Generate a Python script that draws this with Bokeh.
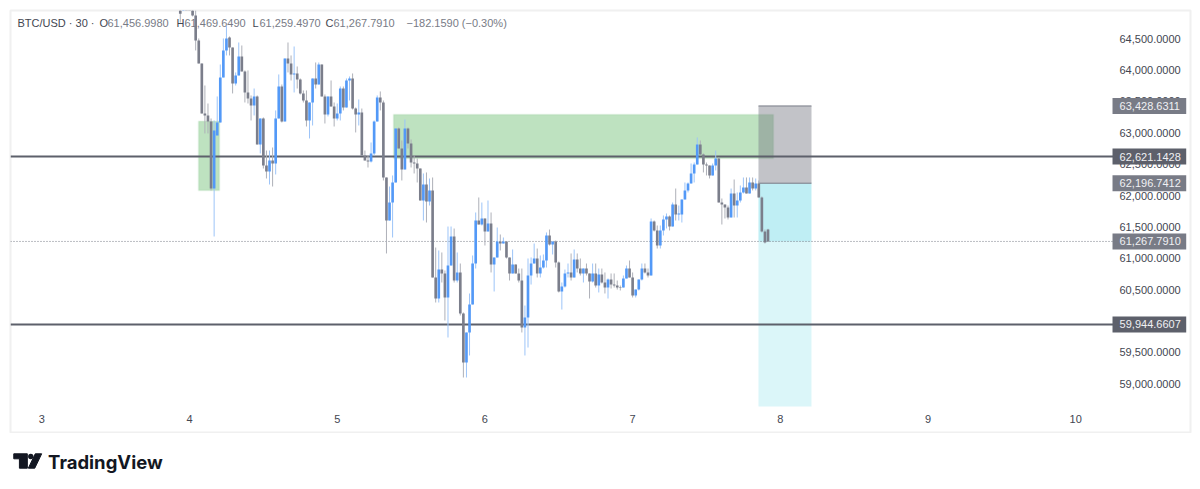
from bokeh.plotting import figure
from bokeh.layouts import column
from bokeh.models import Label, FixedTicker, NumeralTickFormatter, Range1d
from bokeh.core.properties import value
from bokeh.embed import file_html
from bokeh.resources import INLINE

first_bar = -3
bars_per_day = 48
opens = [64952,64970,65110,65060,
64983,64872,64473,64106,63309,63277,63181,62112,62958,63165,63883,64314,64521,64361,63787,63915,64218,63979,63644,63548,63436,63580,62814,63229,62479,62384,62559,62511,63229,63739,63181,64186,64106,63931,63947,63851,63628,63516,63197,63484,63867,63771,64090,63580,63293,63580,63420,63229,63309,63707,63404,63835,63867,63388,63293,63325,62639,62559,62543,62671,63181,63564,63484,62288,61602,61889,62208,63069,62750,62415,63069,62830,62527,62511,62431,61921,62176,61905,62081,60693,60358,60820,60757,60374,60884,61347,60645,60773,60119,59337,59816,60262,60916,61602,61538,61634,61427,61554,60900,61012,61267,61235,61267,61012,60757,60900,60757,60645,59895,60055,60725,60916,60996,60757,60852,60964,61363,61219,61267,60932,60470,60549,60757,60773,60693,60980,60836,60757,60836,60757,60629,60757,60565,60741,60613,60533,60661,60581,60565,60533,60533,60677,60836,60693,60406,60501,60661,60836,60773,60725,61586,61443,61203,61443,61618,61666,61506,61857,61698,61698,61937,62081,62192,62352,62495,62814,62655,62495,62479,62320,62479,62591,61889,61857,61809,61650,62033,61841,61921,62049,62128,62033,62208,62112,62192,61969,61427,61456.998]
highs = [65000,65120,65140,65100,
65111,64952,64505,64106,63755,63468,63229,63197,63580,64090,64505,64712,64537,64361,63963,64441,64393,63995,63995,63596,63707,63596,63229,63245,62718,62718,62766,63357,63931,63771,64186,64441,64234,64377,64058,63867,63676,63676,63484,63867,64122,64122,64090,63612,63580,63835,63484,63468,63739,63739,63867,63899,63947,63404,63532,63388,62718,62639,62846,63197,63596,63660,63516,62288,62144,62320,63069,63085,62878,63213,63085,62894,62639,62591,62431,62352,62368,62272,62288,61171,61124,61092,60805,61506,61506,61474,61092,60916,60135,59816,60438,61044,61730,61969,61889,61634,61921,61730,61012,61490,61379,61331,61267,61012,61140,60900,60836,60836,60246,60996,61012,61235,61155,61044,61060,61411,61458,61267,61283,60948,60613,60820,60916,61076,61140,61076,60996,60836,60916,60757,60916,60916,60836,60836,60773,60677,60757,60757,60645,60565,60725,60884,60964,60773,60501,60661,60916,60916,60836,61634,61602,61522,61522,61682,61714,61682,61889,62112,61841,61937,62208,62208,62511,62527,62926,62878,62671,62527,62479,62511,62718,62607,61953,61857,61841,62112,62256,62049,62160,62288,62288,62288,62288,62272,62240,61985,61458,61469.649]
lows = [64760,64950,65040,64960,
64856,64314,64106,63309,62990,62990,62081,61347,62958,63165,63883,64234,64234,63628,63755,63915,63979,63484,63468,63197,63277,62814,62671,62431,62272,62176,62144,62336,63229,63165,63181,63963,63835,63644,63707,63612,63484,63101,62910,63117,63707,63771,63580,63149,63261,63420,63101,63197,63197,63357,63404,63516,63372,63006,63117,62639,62559,62447,62527,62639,63181,63357,62240,61076,61602,61331,62208,62750,62240,62415,62750,62447,62352,62208,61921,61602,61570,61841,60693,60294,60294,60613,60007,59736,60884,60613,60613,60087,59098,59098,59449,60262,60836,61538,61522,61203,61427,60773,60470,61012,61124,61235,60996,60645,60757,60757,60613,59816,59449,59576,60581,60916,60693,60693,60836,60852,61203,61060,60852,60454,60182,60533,60693,60645,60693,60773,60725,60613,60725,60358,60613,60533,60454,60597,60438,60358,60517,60533,60501,60486,60533,60677,60693,60374,60374,60486,60645,60757,60693,60725,61427,61155,61155,61363,61475,61443,61506,61602,61602,61570,61937,62049,62192,62208,62495,62639,62368,62320,62272,62320,62400,61889,61538,61634,61618,61650,61650,61650,61889,62033,62033,62033,62081,62081,61969,61411,61235,61259.497]
closes = [64900,65100,65060,64983,
64872,64473,64106,63309,63277,63181,62112,63037,63165,63883,64314,64505,64361,63787,63915,64218,63979,63644,63548,63436,63580,62814,63229,62479,62384,62559,62511,63229,63739,63181,64186,64106,63931,63947,63851,63628,63516,63197,63484,63867,63771,64090,63580,63293,63580,63420,63229,63309,63707,63404,63835,63867,63388,63293,63325,62639,62559,62543,62671,63181,63564,63484,62288,61602,61889,62208,63069,62750,62415,63069,62830,62527,62511,62431,61921,62176,61905,62081,60693,60358,60820,60757,60374,60884,61347,60645,60773,60119,59337,59816,60262,60916,61602,61538,61634,61427,61554,60900,61012,61267,61235,61267,61012,60757,60900,60757,60645,59895,60055,60725,60916,60996,60757,60852,60964,61363,61219,61267,60932,60470,60549,60757,60773,60693,60980,60836,60757,60836,60757,60629,60757,60565,60741,60613,60533,60661,60581,60565,60533,60525,60677,60836,60693,60406,60501,60661,60836,60773,60725,61586,61443,61203,61443,61618,61666,61506,61857,61698,61714,61937,62081,62192,62352,62495,62814,62655,62495,62479,62320,62479,62591,61889,61857,61809,61650,62033,61841,61921,62049,62128,62033,62208,62112,62192,61969,61427,61251,61267.791]

price_ticks = [59000,59500,60000,60500,61000,61500,62000,62500,63000,63500,64000,64500]
day_ticks = [3,4,5,6,7,8,9,10]
level_prices = [62621.1428, 59944.6607]
last_price = 61267.7910
entry_price = 62196.7412
stop_price = 63428.6311
pane_low = 58636
pane_days = (2.788, 10.263)
tag_days = (10.249, 10.748)
tag_text_day = 10.297
tag_half = 128
zone_a = (4.061, 4.203, 62081, 63186)
zone_b = (5.381, 7.954, 62591, 63291)
position_days = (7.852, 8.211)

UP, DOWN = "#5399f7", "#7b7e8b"
UP_W, DOWN_W = "#9cc4f8", "#aeb0b8"

p = figure(frame_width=1180, frame_height=422, width=1192, height=433,
           x_range=Range1d(2.788, 10.777), y_range=Range1d(58221, 64951),
           x_axis_location="below", y_axis_location="right",
           output_backend="svg", toolbar_location=None,
           min_border_left=10, min_border_top=10, min_border_right=2, min_border_bottom=1,
           background_fill_color="white", border_fill_color="white")
p.outline_line_color = "#f0f0f0"
p.outline_line_width = 2
p.grid.visible = False

for ax in (p.xaxis[0], p.yaxis[0]):
    ax.axis_line_color = None
    ax.major_tick_line_color = None
    ax.minor_tick_line_color = None
    ax.major_tick_out = 0
    ax.major_label_text_font = "Liberation Sans"
    ax.major_label_text_font_size = "11px"
    ax.major_label_text_color = "#434651"
p.xaxis[0].ticker = FixedTicker(ticks=day_ticks)
p.xaxis[0].major_label_standoff = -18
p.yaxis[0].ticker = FixedTicker(ticks=price_ticks)
p.yaxis[0].formatter = NumeralTickFormatter(format="0,0.0000")
p.yaxis[0].major_label_standoff = -71

# zones
for z in (zone_a, zone_b):
    p.quad(left=z[0], right=z[1], bottom=z[2], top=z[3], fill_color="#4caf50", fill_alpha=0.36,
           line_color="#4caf50", line_alpha=0.06, line_width=2)
p.quad(left=position_days[0], right=position_days[1], bottom=entry_price, top=stop_price,
       fill_color="#787b86", fill_alpha=0.45, line_color=None)
p.quad(left=position_days[0], right=position_days[1], bottom=last_price, top=entry_price,
       fill_color="#00bcd4", fill_alpha=0.25, line_color=None)
p.quad(left=position_days[0], right=position_days[1], bottom=pane_low, top=last_price,
       fill_color="#00bcd4", fill_alpha=0.14, line_color=None)
p.segment(x0=position_days[0], x1=position_days[1], y0=stop_price, y1=stop_price, line_color="#787b86", line_width=1)
p.segment(x0=position_days[0], x1=position_days[1], y0=entry_price, y1=entry_price, line_color="#787b86", line_width=1)

# levels
for lv in level_prices:
    p.segment(x0=pane_days[0], x1=pane_days[1], y0=lv, y1=lv, line_color="#5d606b", line_width=2)
p.segment(x0=pane_days[0], x1=pane_days[1], y0=last_price, y1=last_price,
          line_color="#787b86", line_width=1, line_dash="1 2")

# candles
days = [4 + (first_bar + i) / bars_per_day for i in range(len(closes))]
up = [c >= o for o, c in zip(opens, closes)]
wick_colors = [UP_W if u else DOWN_W for u in up]
body_colors = [UP if u else DOWN for u in up]
p.segment(x0=days, x1=days, y0=lows, y1=highs, line_color=wick_colors, line_width=1)
p.vbar(x=days, width=0.018, bottom=[min(o, c) for o, c in zip(opens, closes)],
       top=[max(o, c) for o, c in zip(opens, closes)], fill_color=body_colors, line_color=None)

# header
header_y = 64751
header = [(7, "BTC/USD · 30 ·", "#434651"), (89, "O", "#434651"), (97, "61,456.9980", "#787b86"),
          (166, "H", "#434651"), (174, "61,469.6490", "#787b86"), (242, "L", "#434651"),
          (249, "61,259.4970", "#787b86"), (315, "C", "#434651"), (323, "61,267.7910", "#787b86"),
          (396, "−182.1590 (−0.30%)", "#787b86")]
for x, t, c in header:
    p.add_layout(Label(x=x, y=header_y, x_units="screen", y_units="data", text=t, text_color=c,
                       text_font="Liberation Sans", text_font_size="11px", text_baseline="middle",
                       level="underlay"))

# price scale tags
for price, txt, bg in [(stop_price, "63,428.6311", "#787b86"), (level_prices[0], "62,621.1428", "#5d606b"),
                       (entry_price, "62,196.7412", "#787b86"), (last_price, "61,267.7910", "#787b86"),
                       (level_prices[1], "59,944.6607", "#5d606b")]:
    p.quad(left=tag_days[0], right=tag_days[1], bottom=price - tag_half, top=price + tag_half,
           fill_color=bg, line_color=None, level="annotation")
    p.text([tag_text_day], [price], text=[txt], text_color="#f0f0f3", text_font=value("Liberation Sans"),
           text_font_size="11px", text_baseline="middle", level="annotation")

# logo strip
logo = figure(width=1192, height=48, x_range=Range1d(8, 1200), y_range=Range1d(48, 0),
              output_backend="svg", toolbar_location=None, min_border=0, outline_line_color=None,
              background_fill_color="white", border_fill_color="white")
logo.axis.visible = False
logo.grid.visible = False
logo.patch([11.3, 25, 25, 17, 17, 11.3], [20.3, 20.3, 34.7, 34.7, 25.3, 25.3], color="#131722")
logo.patch([33, 39.5, 32.5, 26], [20.3, 20.3, 34.7, 34.7], color="#131722")
logo.scatter([28.5], [23], size=5.4, color="#131722", line_color=None)
logo.text([46], [28], text=["TradingView"], text_font=value("Inter"), text_font_size="18.5px",
          text_font_style="bold", text_color="#131722", text_baseline="middle")

page = column(p, logo, spacing=0)
open("out.html", "w").write(file_html(page, INLINE))
